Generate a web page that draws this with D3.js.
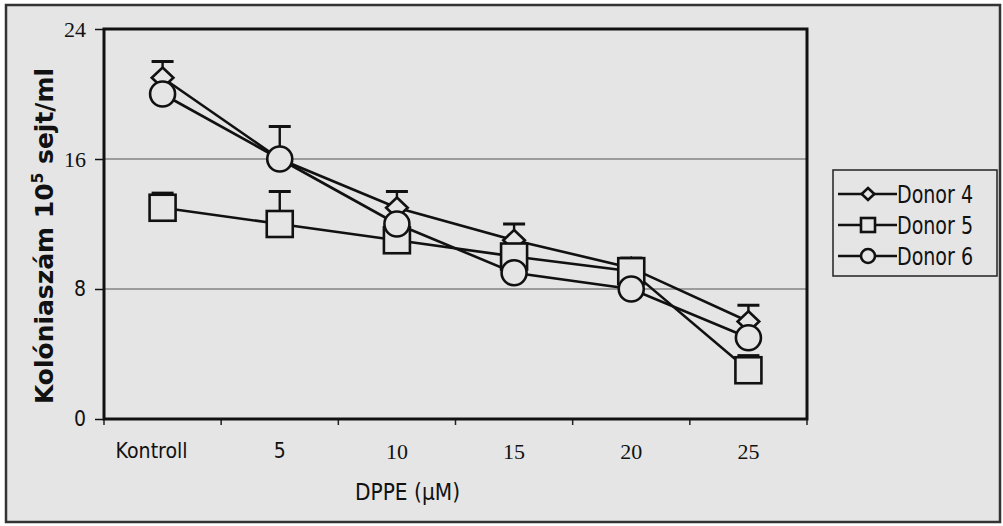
<!DOCTYPE html>
<html>
<head>
<meta charset="utf-8">
<style>
    body { margin: 0; background: #fff; }
    svg { display: block; }
    .cond { font-family: "DejaVu Sans Condensed", "DejaVu Sans", sans-serif; font-stretch: condensed; }
    .serif { font-family: "Liberation Serif", "DejaVu Serif", serif; }
</style>
</head>
<body>
<svg width="1003" height="526"></svg>
<script src="https://d3js.org/d3.v7.min.js"></script>
<script>
    // data
    var categories = ["Kontroll", "5", "10", "15", "20", "25"];
    var donor4 = [21, 16, 13, 11, 9.3, 6];
    var donor5 = [13, 12, 11, 10, 9.1, 3];
    var donor6 = [20, 16, 12, 9, 8, 5];
    var err4 = [1, 2, 1, 1, 0.5, 1];
    var err5 = [0.9, 2, 0, 0, 0.8, 0.9];
    var err6 = [0, 0, 0, 0, 0, 0];
    var yTicks = [0, 8, 16, 24];
    var seriesNames = ["Donor 4", "Donor 5", "Donor 6"];
    var symbols = ["diamond", "square", "circle"];

    var series = [
        {name: seriesNames[0], values: donor4, err: err4, sym: symbols[0]},
        {name: seriesNames[1], values: donor5, err: err5, sym: symbols[1]},
        {name: seriesNames[2], values: donor6, err: err6, sym: symbols[2]}
    ];

    var svg = d3.select("svg");
    var bg = "#e5e5e5";
    var plot = {left: 104, top: 29, right: 807, bottom: 419};

    // page background and frame
    svg.append("rect").attr("x", 6).attr("y", 5).attr("width", 994).attr("height", 517)
        .attr("fill", bg).attr("stroke", "#333").attr("stroke-width", 2.5);

    var x = d3.scaleBand().domain(categories).range([plot.left, plot.right]);
    var y = d3.scaleLinear().domain([0, 24]).range([plot.bottom, plot.top]);

    // gridlines
    svg.append("g").selectAll("line")
        .data(yTicks.filter(function(d) { return d > 0 && d < 24; }))
        .enter().append("line")
        .attr("x1", plot.left).attr("x2", plot.right)
        .attr("y1", function(d) { return y(d); }).attr("y2", function(d) { return y(d); })
        .attr("stroke", "#555").attr("stroke-width", 1.2);

    // axes
    var yAxis = svg.append("g").attr("transform", "translate(" + plot.left + ",0)")
        .call(d3.axisLeft(y).tickValues(yTicks).tickSize(9).tickPadding(9));
    yAxis.select(".domain").remove();
    yAxis.selectAll("line").attr("stroke", "#111").attr("stroke-width", 1.5);
    yAxis.selectAll("text")
        .attr("class", function(d) { return d >= 16 ? "serif" : "cond"; })
        .style("font-size", function(d) { return d >= 16 ? "22px" : "21px"; })
        .attr("fill", "#111");

    var xAxis = svg.append("g").attr("transform", "translate(0," + plot.bottom + ")")
        .call(d3.axisBottom(x).tickSize(0).tickPadding(24));
    xAxis.select(".domain").remove();
    xAxis.selectAll("text")
        .attr("class", function(d, i) { return i < 2 ? "cond" : "serif"; })
        .style("font-size", function(d, i) { return i < 2 ? "21px" : "22px"; })
        .attr("fill", "#111");
    xAxis.selectAll("text").filter(function(d) { return d === "Kontroll"; })
        .attr("x", -11).attr("textLength", 72).attr("lengthAdjust", "spacingAndGlyphs");
    // x ticks at band edges
    var edges = categories.map(function(c) { return x(c); }).concat([plot.right]);
    svg.append("g").selectAll("line").data(edges).enter().append("line")
        .attr("x1", function(d) { return d; }).attr("x2", function(d) { return d; })
        .attr("y1", plot.bottom).attr("y2", plot.bottom + 6)
        .attr("stroke", "#222").attr("stroke-width", 1.5);

    // plot frame
    svg.append("rect").attr("x", plot.left).attr("y", plot.top)
        .attr("width", plot.right - plot.left).attr("height", plot.bottom - plot.top)
        .attr("fill", "none").attr("stroke", "#111").attr("stroke-width", 3);

    // axis titles
    svg.append("text").attr("class", "cond")
        .attr("transform", "translate(53,236) rotate(-90)")
        .attr("text-anchor", "middle").style("font-size", "24px").style("font-weight", "bold")
        .attr("fill", "#111")
        .attr("textLength", 336).attr("lengthAdjust", "spacingAndGlyphs")
        .html('Kolóniaszám 10<tspan dy="-10" style="font-size:15px">5</tspan><tspan dy="10"> sejt/ml</tspan>');
    svg.append("text").attr("class", "cond").attr("x", 355).attr("y", 500)
        .style("font-size", "23px").attr("fill", "#111")
        .attr("textLength", 105).attr("lengthAdjust", "spacingAndGlyphs").text("DPPE (µM)");

    function cx(i) { return x(categories[i]) + x.bandwidth() / 2; }

    function drawMarker(g, sym, px, py, s) {
        var m;
        if (sym === "diamond") {
            m = g.append("path").attr("d", "M" + px + "," + (py - s * 0.85) + "L" + (px + s * 0.9) + "," + py +
                "L" + px + "," + (py + s * 0.85) + "L" + (px - s * 0.9) + "," + py + "Z");
        } else if (sym === "square") {
            m = g.append("rect").attr("x", px - s).attr("y", py - s).attr("width", 2 * s).attr("height", 2 * s);
        } else {
            m = g.append("circle").attr("cx", px).attr("cy", py).attr("r", s);
        }
        m.attr("fill", bg).attr("stroke", "#111").attr("stroke-width", 2.6);
    }

    var line = d3.line().x(function(d, i) { return cx(i); }).y(function(d) { return y(d); });

    var lines = svg.append("g");
    series.forEach(function(s) {
        lines.append("path").datum(s.values).attr("d", line)
            .attr("fill", "none").attr("stroke", "#111").attr("stroke-width", 2.6);
    });

    var errs = svg.append("g");
    series.forEach(function(s) {
        s.values.forEach(function(v, i) {
            if (!s.err[i]) return;
            var top = y(v + s.err[i]);
            errs.append("line").attr("x1", cx(i)).attr("x2", cx(i))
                .attr("y1", y(v)).attr("y2", top).attr("stroke", "#111").attr("stroke-width", 2.4);
            errs.append("line").attr("x1", cx(i) - 11).attr("x2", cx(i) + 11)
                .attr("y1", top).attr("y2", top).attr("stroke", "#111").attr("stroke-width", 3);
        });
    });

    var marks = svg.append("g");
    series.forEach(function(s) {
        s.values.forEach(function(v, i) {
            drawMarker(marks, s.sym, cx(i), y(v), s.sym === "diamond" ? 12 : (s.sym === "square" ? 13 : 12.5));
        });
    });

    // legend
    var lg = svg.append("g");
    lg.append("rect").attr("x", 833).attr("y", 170).attr("width", 164).attr("height", 106)
        .attr("fill", "none").attr("stroke", "#222").attr("stroke-width", 1.5);
    series.forEach(function(s, i) {
        var ly = 194 + i * 31;
        lg.append("line").attr("x1", 838).attr("x2", 897).attr("y1", ly).attr("y2", ly)
            .attr("stroke", "#111").attr("stroke-width", 2.4);
        drawMarker(lg, s.sym, 868, ly, 7);
        lg.append("text").attr("class", "cond").attr("x", 897).attr("y", ly + 9)
            .style("font-size", "24px").attr("fill", "#111")
            .attr("textLength", 76).attr("lengthAdjust", "spacingAndGlyphs").text(s.name);
    });
</script>
</body>
</html>
